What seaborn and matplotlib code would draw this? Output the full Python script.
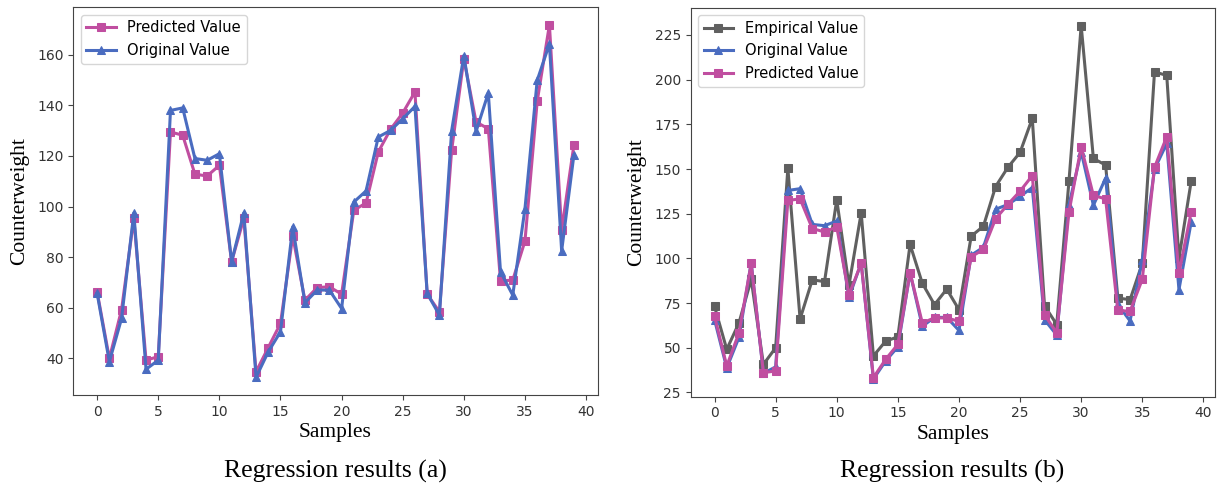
import matplotlib
matplotlib.use("Agg")

import matplotlib.pyplot as plt
import numpy as np
import seaborn as sns

samples = np.arange(40)

# valores
original = [65.7, 38.7, 55.8, 97.5, 35.7, 39.3, 138.0, 139.0, 119.0, 118.3,
            120.9, 78.2, 97.5, 32.5, 42.6, 50.5, 92.0, 62.0, 67.0, 67.0,
            59.7, 101.8, 106.2, 127.5, 130.1, 134.7, 139.6, 65.7, 57.1, 129.9,
            159.7, 129.7, 144.9, 74.2, 65.0, 99.2, 149.9, 164.3, 82.5, 120.3]
predicted_a = [66.3, 40.0, 59.3, 95.3, 39.3, 40.7, 129.5, 128.2, 112.8, 112.1,
               116.3, 78.2, 95.3, 34.7, 44.3, 53.8, 88.3, 63.0, 68.0, 68.3,
               65.4, 98.6, 101.4, 121.6, 130.5, 137.0, 145.3, 65.4, 58.4, 122.2,
               158.4, 133.4, 130.8, 70.7, 70.9, 86.4, 141.6, 171.8, 90.7, 124.2]
empirical = [73.1, 49.1, 63.9, 88.3, 40.7, 50.0, 150.4, 66.1, 88.0, 87.0,
             132.8, 85.0, 125.4, 45.4, 53.7, 56.1, 107.8, 86.1, 74.1, 82.8,
             71.3, 112.4, 118.0, 140.2, 150.9, 159.3, 178.3, 73.5, 63.0, 143.1,
             230.2, 155.9, 152.2, 77.8, 76.9, 97.2, 204.3, 202.4, 100.0, 143.1]
predicted_b = [67.6, 39.8, 58.3, 97.2, 36.1, 37.0, 132.4, 133.3, 116.7, 114.8,
               117.6, 79.6, 97.2, 33.3, 43.5, 51.9, 92.0, 63.9, 66.7, 66.7,
               64.8, 100.9, 105.0, 122.2, 130.2, 137.6, 146.3, 68.5, 58.3, 125.9,
               162.4, 135.2, 133.3, 70.9, 70.4, 88.3, 150.9, 168.0, 91.7, 125.9]

PINK = "#c04ea0"
BLUE = "#4a6cc0"
GREY = "#606060"
SERIF = ["Liberation Serif", "DejaVu Serif"]

W, H = 1217, 491
fig = plt.figure(figsize=(W / 100, H / 100), dpi=100)


def _axes(x0, y0, x1, y1):
    return fig.add_axes([x0 / W, 1 - y1 / H, (x1 - x0) / W, (y1 - y0) / H])


def _line(ax, y, marker, color, label):
    sns.lineplot(x=samples, y=y, marker=marker, color=color, label=label,
                 linewidth=2.2, markersize=5.5, markeredgecolor=color, ax=ax)


ax1 = _axes(73.3, 7.3, 597.7, 395)
_line(ax1, predicted_a, "s", PINK, "Predicted Value")
_line(ax1, original, "^", BLUE, "Original Value")

ax2 = _axes(690.7, 8, 1215, 396.7)
_line(ax2, empirical, "s", GREY, "Empirical Value")
_line(ax2, original, "^", BLUE, "Original Value")
_line(ax2, predicted_b, "s", PINK, "Predicted Value")
ax2.set_yticks([25, 50, 75, 100, 125, 150, 175, 200, 225])

for ax in (ax1, ax2):
    ax.set_xticks([0, 5, 10, 15, 20, 25, 30, 35, 40])
    ax.tick_params(labelsize=10, color="#444444", labelcolor="#333333")
    for s in ax.spines.values():
        s.set_color("#444444")
    ax.set_xlabel("Samples", family=SERIF, fontsize=15.5, labelpad=3)
    ax.set_ylabel("Counterweight", family=SERIF, fontsize=15.5, labelpad=6)
    ax.legend(loc="upper left", fontsize=10.5, handlelength=2)

fig.text(335 / W, 1 - 471 / H, "Regression results (a)", family=SERIF,
         fontsize=18.5, ha="center", va="center")
fig.text(952 / W, 1 - 471 / H, "Regression results (b)", family=SERIF,
         fontsize=18.5, ha="center", va="center")

fig.savefig("out.png", dpi=100)
